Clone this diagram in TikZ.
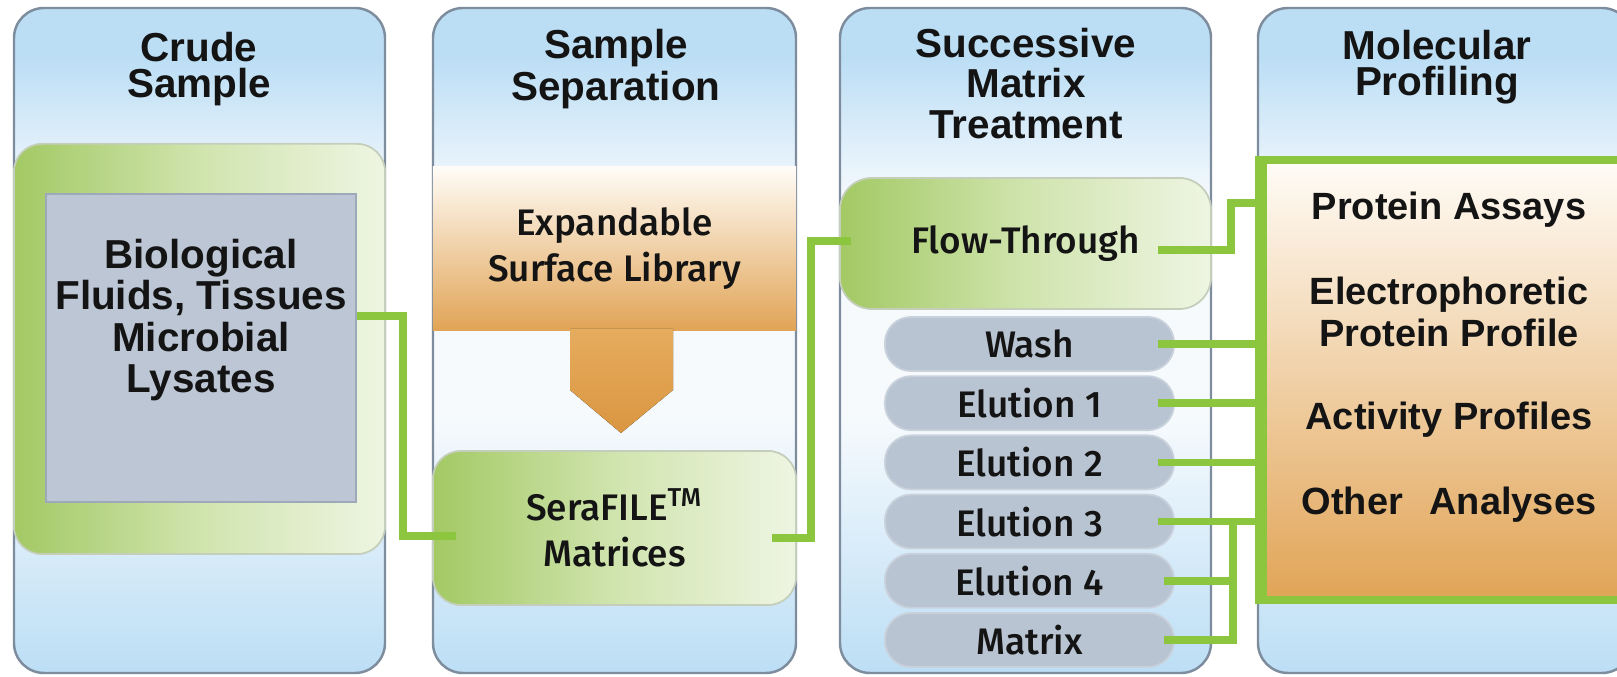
\documentclass[tikz,border=0pt]{standalone}
\usepackage{fontspec}
\setmainfont{Liberation Sans}
\IfFontExistsTF{Fira Sans Medium}
  {\newfontfamily\medfont{Fira Sans Medium}}
  {\newfontfamily\medfont{Fira Sans}[FakeBold=1.5]}

\definecolor{panelblue}{HTML}{BCDEF5}
\definecolor{panelwhite}{HTML}{F6FAFD}
\definecolor{panelline}{HTML}{7E8D9D}
\definecolor{linkgreen}{HTML}{8CC63F}
\definecolor{greenL}{HTML}{A3C964}
\definecolor{greenM}{HTML}{D0E4AE}
\definecolor{greenR}{HTML}{EEF5E2}
\definecolor{greenedge}{HTML}{C4CEBB}
\definecolor{slate}{HTML}{B9C4D2}
\definecolor{slateedge}{HTML}{C9D2DC}
\definecolor{bioedge}{HTML}{9DA9B9}
\definecolor{biofill}{HTML}{BCC6D4}
\definecolor{orangeD}{HTML}{E1A456}
\definecolor{orangeW}{HTML}{FFFCF7}
\definecolor{arrowtop}{HTML}{E6AC5E}
\definecolor{arrowbot}{HTML}{DA9641}
\definecolor{inkc}{HTML}{141414}

% column background: blue at top and bottom, white in the middle
\newcommand{\drawpanel}[2]{%
  \begin{scope}
    \clip[rounded corners=0.3cm] (#1,8) rectangle (#2,673);
    \fill[panelblue] (#1,8) rectangle (#2,60);
    \fill[top color=panelblue, bottom color=panelwhite] (#1,59) rectangle (#2,200);
    \fill[panelwhite] (#1,199) rectangle (#2,420);
    \fill[top color=panelwhite, bottom color=panelblue] (#1,419) rectangle (#2,673);
  \end{scope}
  \draw[panelline, line width=0.7pt, rounded corners=0.3cm] (#1,8) rectangle (#2,673);
}

\begin{document}
\begin{tikzpicture}[x=0.01cm, y=-0.01cm,
  headtext/.style={font=\bfseries\fontsize{11.5}{10.2}\selectfont, align=center, text=inkc},
  bigtext/.style={font=\bfseries\fontsize{11.5}{11.7}\selectfont, align=center, text=inkc},
  medtext/.style={font=\medfont\fontsize{10.5}{13.2}\selectfont, align=center, text=inkc},
  proftext/.style={font=\bfseries\fontsize{10.8}{12}\selectfont, align=center, text=inkc},
  greenbox/.style={draw=greenedge, line width=0.5pt, left color=greenL, right color=greenR, middle color=greenM, inner sep=0pt},
  biobox/.style={draw=bioedge, line width=0.6pt, fill=biofill, inner sep=0pt},
  libbox/.style={top color=orangeW, bottom color=orangeD, inner sep=0pt},
  pillbox/.style={fill=slate, draw=slateedge, line width=0.5pt, rounded corners=0.26cm,
    minimum width=2.89cm, minimum height=0.54cm, inner sep=0pt, medtext},
  profbox/.style={draw=linkgreen, line width=2.2pt, top color=orangeW, bottom color=orangeD, inner sep=0pt},
  link/.style={draw=linkgreen, line width=2.2pt, line join=miter}
]
\useasboundingbox (0,0) rectangle (1617,677);
\fill[white] (0,0) rectangle (1617,677);

\drawpanel{14}{385}
\drawpanel{433}{796}
\drawpanel{840}{1211}
\drawpanel{1258}{1632}

% column headings
\node[headtext] (t1) at (199,69) {Crude\\Sample};
\node[headtext] (t2) at (616,69) {Sample\\Separation};
\node[headtext, font=\bfseries\fontsize{11.5}{11.4}\selectfont] (t3) at (1026,83.5) {Successive\\Matrix\\Treatment};
\node[headtext] (t4) at (1437,67) {Molecular\\Profiling};

% crude sample
\node[greenbox, rounded corners=0.28cm, minimum width=3.71cm, minimum height=4.10cm] (crude) at (199.5,349) {};
\node[biobox, minimum width=3.10cm, minimum height=3.08cm] (bio) at (201,348) {};
\node[bigtext] (biotext) at (201,320) {Biological\\Fluids, Tissues\\Microbial\\Lysates};

% sample separation
\node[libbox, minimum width=3.63cm, minimum height=1.63cm, medtext] (lib) at (614.5,248.5) {Expandable\\Surface Library};
\fill[top color=arrowtop, bottom color=arrowbot]
  (570,329) -- (673,329) -- (673,390) -- (621,433) -- (570,390) -- cycle;
\node[greenbox, rounded corners=0.28cm, minimum width=3.63cm, minimum height=1.54cm, medtext] (sera) at (614.5,528) {SeraFILE\textsuperscript{TM}\\Matrices};

% successive matrix treatment
\node[greenbox, rounded corners=0.32cm, minimum width=3.71cm, minimum height=1.31cm, medtext] (flow) at (1025.5,243.5) {Flow-Through};
\node[pillbox] (wash) at (1029.5,344) {Wash};
\node[pillbox] (el1) at (1029.5,403.2) {Elution 1};
\node[pillbox] (el2) at (1029.5,462.4) {Elution 2};
\node[pillbox] (el3) at (1029.5,521.6) {Elution 3};
\node[pillbox] (el4) at (1029.5,580.8) {Elution 4};
\node[pillbox] (mat) at (1029.5,640) {Matrix};

% molecular profiling
\node[profbox, minimum width=3.77cm, minimum height=4.40cm] (prof) at (1451.5,380) {};
\node[proftext] (pa) at (1449,210) {Protein Assays};
\node[proftext] (ep) at (1449,312) {Electrophoretic\\Protein Profile};
\node[proftext] (ap) at (1449,420) {Activity Profiles};
\node[proftext] (oa) at (1449,505) {Other\hspace{0.7em}Analyses};

% connectors
\coordinate (busx) at (1233,0);
\draw[link] ([yshift=0.32cm]bio.east) -- ++(0.46cm,0) |- ([shift={(0.24cm,-0.08cm)}]sera.west);
\draw[link] ([shift={(-0.25cm,-0.10cm)}]sera.east) -- ++(0.39cm,0) |- ([shift={(0.12cm,0.025cm)}]flow.west);
\draw[link] ([shift={(-0.54cm,-0.065cm)}]flow.east) -- ++(0.73cm,0) |- ([yshift=1.77cm]prof.west);
\draw[link] ([xshift=-0.17cm]wash.east) -- (wash -| prof.west);
\draw[link] ([xshift=-0.17cm]el1.east) -- (el1 -| prof.west);
\draw[link] ([xshift=-0.17cm]el2.east) -- (el2 -| prof.west);
\draw[link] ([xshift=-0.17cm]el3.east) -- (el3 -| prof.west);
\draw[link] ([xshift=-0.11cm]el4.east) -- (el4 -| busx);
\draw[link] ([xshift=-0.11cm]mat.east) -| (el3 -| busx);
\draw[draw=linkgreen, line width=2.2pt] (prof.north west) -- (prof.south west);
\end{tikzpicture}
\end{document}
